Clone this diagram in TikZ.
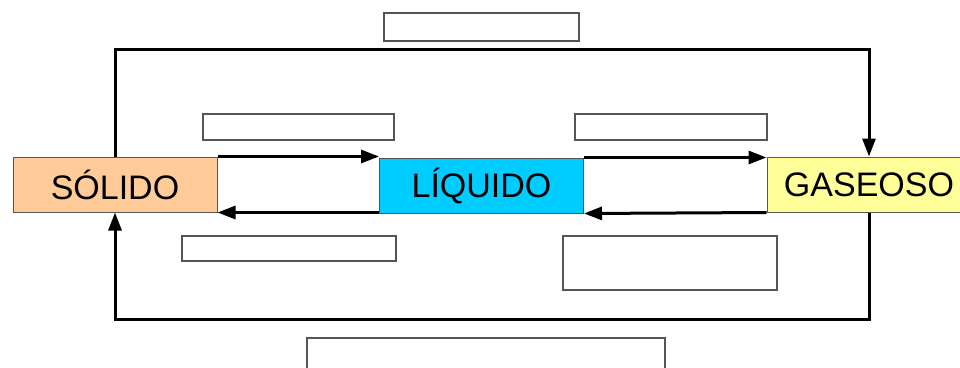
\documentclass[tikz,border=0pt]{standalone}
\usepackage{fontspec}
\setmainfont{Liberation Sans}
\usetikzlibrary{arrows.meta}
\definecolor{csolid}{HTML}{FFCC99}
\definecolor{cliquid}{HTML}{00CCFF}
\definecolor{cgas}{HTML}{FFFF99}
\definecolor{cedge}{HTML}{555555}
\tikzset{
  every picture/.style={line width=1pt},
  state/.style={draw=cedge, fill=#1, minimum width=204pt, minimum height=55pt, inner sep=0pt, font=\fontsize{34}{40}\selectfont},
  state/.default=white,
  blank/.style={draw=cedge, line width=1.2pt, fill=white, inner sep=0pt},
  arrow/.style={-{Triangle[length=18pt, width=13pt]}, draw=black, line width=3pt},
}

\begin{document}
\begin{tikzpicture}[x=1pt, y=-1pt]
  \useasboundingbox (0,0) rectangle (960,367);
  % the three states
  \node[state=csolid] (solido) at (115,184.5) {SÓLIDO};
  \node[state=cliquid] (liquido) at (481.5,185.5) {LÍQUIDO};
  \node[state=cgas] (gaseoso) at (869,184.5) {GASEOSO};
  % empty answer boxes
  \node[blank, minimum width=195pt, minimum height=28pt] (btop) at (481.5,27) {};
  \node[blank, minimum width=191pt, minimum height=26pt] (bfus) at (298.5,127) {};
  \node[blank, minimum width=214pt, minimum height=25pt] (bsol) at (289,248.5) {};
  \node[blank, minimum width=192pt, minimum height=26pt] (bvap) at (671,127) {};
  \node[blank, minimum width=214pt, minimum height=54pt] (bcon) at (670,263) {};
  \node[blank, minimum width=358pt, minimum height=32pt] (bdep) at (486,354) {};
  % connectors
  \draw[arrow] (solido.north east) -- (liquido.north west |- solido.north east);
  \draw[arrow] (liquido.south west |- solido.south east) -- (solido.south east);
  \draw[arrow] (liquido.north east) -- (gaseoso.north west |- liquido.north east);
  \draw[arrow] (gaseoso.south west) -- (liquido.south east);
  \coordinate (ltop) at (0,49);
  \coordinate (lbot) at (0,319);
  \draw[arrow] (solido.north) -- (solido.north |- ltop) -- (gaseoso.north |- ltop) -- (gaseoso.north);
  \draw[arrow] (gaseoso.south) -- (gaseoso.south |- lbot) -- (solido.south |- lbot) -- (solido.south);
\end{tikzpicture}
\end{document}
